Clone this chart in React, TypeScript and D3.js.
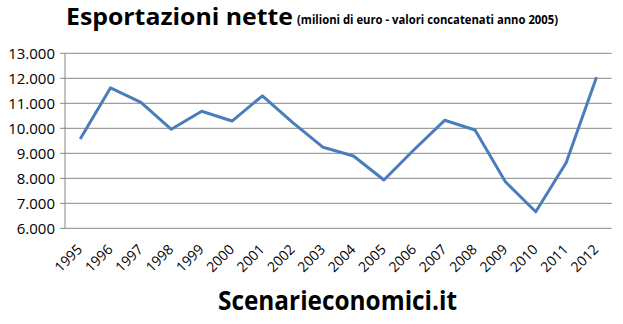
import React, { useEffect, useRef } from "react";
import * as d3 from "d3";

// anni e valori (milioni di euro)
const years = ["1995", "1996", "1997", "1998", "1999", "2000", "2001", "2002", "2003",
  "2004", "2005", "2006", "2007", "2008", "2009", "2010", "2011", "2012"];
const exportsNet = [9570, 11620, 11040, 9960, 10680, 10290, 11300, 10230, 9240,
  8890, 7930, 9150, 10320, 9930, 7860, 6660, 8620, 12040];
const yTicks = [6000, 7000, 8000, 9000, 10000, 11000, 12000, 13000];

const width = 623;
const height = 324;
const font = "'Open Sans', 'DejaVu Sans', sans-serif";

export default function App() {
  const ref = useRef<SVGSVGElement>(null);

  useEffect(() => {
    const svg = d3.select(ref.current);
    svg.selectAll("*").remove();

    const left = 65;
    const right = 611.7;
    const top = 53.3;
    const bottom = 228.3;

    const x = d3.scaleBand().domain(years).range([left, right]);
    const y = d3.scaleLinear().domain([6000, 13000]).range([bottom, top]);

    const it = d3.formatLocale({ decimal: ",", thousands: ".", grouping: [3], currency: ["€", ""] });
    const fmt = it.format(",");

    svg.append("rect").attr("width", width).attr("height", height).attr("fill", "#fff");

    //gridlines + tick marks
    svg.append("g")
      .selectAll("line")
      .data(yTicks)
      .enter()
      .append("line")
        .attr("x1", left - 5)
        .attr("x2", right)
        .attr("y1", (d) => y(d))
        .attr("y2", (d) => y(d))
        .attr("stroke", "#868686")
        .attr("stroke-width", 1);

    //vertical axis
    svg.append("line")
      .attr("x1", left).attr("x2", left)
      .attr("y1", top).attr("y2", bottom)
      .attr("stroke", "#868686");

    //y labels
    svg.append("g")
      .selectAll("text")
      .data(yTicks)
      .enter()
      .append("text")
        .attr("x", 55)
        .attr("y", (d) => y(d))
        .attr("dy", "0.36em")
        .attr("text-anchor", "end")
        .style("font-family", font)
        .style("font-size", "15px")
        .attr("fill", "#000")
        .text((d) => fmt(d));

    //x labels, rotated
    svg.append("g")
      .selectAll("text")
      .data(years)
      .enter()
      .append("text")
        .attr("text-anchor", "end")
        .attr("transform", (d) => `translate(${x(d)! + x.bandwidth() / 2 + 3}, ${bottom + 22}) rotate(-45)`)
        .style("font-family", font)
        .style("font-size", "14px")
        .attr("fill", "#000")
        .text((d) => d);

    //line
    const line = d3.line<number>()
      .x((_, i) => x(years[i])! + x.bandwidth() / 2)
      .y((d) => y(d));

    svg.append("path")
      .datum(exportsNet)
      .attr("d", line)
      .attr("fill", "none")
      .attr("stroke", "#4A7EBB")
      .attr("stroke-width", 3)
      .attr("stroke-linejoin", "round");

    //titles
    svg.append("text")
      .attr("x", 66).attr("y", 25)
      .attr("textLength", 227).attr("lengthAdjust", "spacingAndGlyphs")
      .style("font-family", font).style("font-size", "23px").style("font-weight", "bold")
      .text("Esportazioni nette");

    svg.append("text")
      .attr("x", 297).attr("y", 24)
      .attr("textLength", 261).attr("lengthAdjust", "spacingAndGlyphs")
      .style("font-family", font).style("font-size", "11.5px").style("font-weight", "bold")
      .text("(milioni di euro - valori concatenati anno 2005)");

    svg.append("text")
      .attr("x", 218).attr("y", 310)
      .attr("textLength", 239).attr("lengthAdjust", "spacingAndGlyphs")
      .style("font-family", font).style("font-size", "27px").style("font-weight", "bold")
      .text("Scenarieconomici.it");
  }, []);

  return (
    <svg ref={ref} width={width} height={height}
      style={{ position: "absolute", left: 0, top: 0, display: "block" }} />
  );
}
